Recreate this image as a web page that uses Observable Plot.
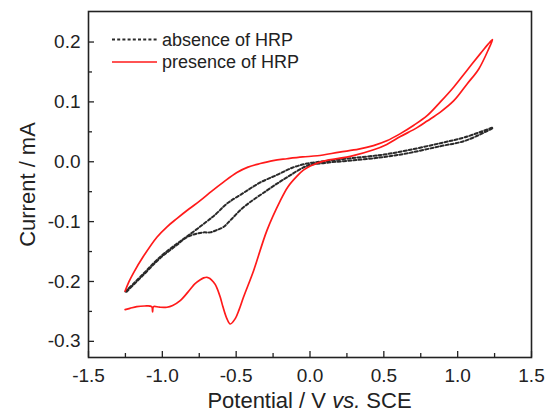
<!DOCTYPE html>
<html>
<head>
<meta charset="utf-8">
<script src="https://cdn.jsdelivr.net/npm/d3@7"></script>
<script src="https://cdn.jsdelivr.net/npm/@observablehq/plot@0.6"></script>
<style>
  html, body { margin: 0; padding: 0; background: #fff; }
  #wrap { position: relative; width: 546px; height: 414px; font-family: "Liberation Sans", Arial, sans-serif; }
  #overlay { position: absolute; left: 0; top: 0; pointer-events: none; }
</style>
</head>
<body>
<div id="wrap"></div>
<script>
// ---- data ----
const xTicks = [-1.5, -1.0, -0.5, 0.0, 0.5, 1.0, 1.5];
const xMinor = [-1.25, -0.75, -0.25, 0.25, 0.75, 1.25];
const yTicks = [-0.3, -0.2, -0.1, 0.0, 0.1, 0.2];
const yMinor = [-0.25, -0.15, -0.05, 0.05, 0.15];

const xLabel = ["Potential / V ", "vs.", " SCE"];
const yLabel = "Current / mA";
const seriesNames = ["absence of HRP", "presence of HRP"];

// presence of HRP (red): anodic sweep then return sweep
const redV = [-1.252, -1.225, -1.196, -1.128, -1.037, -0.97, -0.902, -0.82, -0.744, -0.665, -0.586, -0.495, -0.42, -0.337, -0.25, -0.156, -0.05, 0.05, 0.2, 0.33, 0.43, 0.52, 0.612, 0.703, 0.793, 0.883, 0.974, 1.064, 1.155, 1.205, 1.236,
  1.211, 1.143, 1.064, 0.974, 0.883, 0.793, 0.725, 0.612, 0.52, 0.431, 0.273, 0.092, 0.002, -0.045, -0.088, -0.15, -0.201, -0.292, -0.382, -0.45, -0.48, -0.506, -0.54, -0.563, -0.59, -0.608, -0.635, -0.654, -0.678, -0.698, -0.72, -0.743, -0.78, -0.811, -0.879, -0.93, -0.969, -1.02, -1.06, -1.066, -1.072, -1.12, -1.173, -1.22, -1.252];
const redI = [-0.216, -0.200, -0.186, -0.158, -0.126, -0.109, -0.095, -0.079, -0.065, -0.049, -0.034, -0.018, -0.009, -0.003, 0.002, 0.005, 0.008, 0.010, 0.016, 0.021, 0.027, 0.035, 0.047, 0.061, 0.077, 0.100, 0.125, 0.153, 0.181, 0.196, 0.204,
  0.189, 0.155, 0.130, 0.102, 0.083, 0.068, 0.057, 0.042, 0.029, 0.020, 0.009, 0.001, -0.007, -0.014, -0.024, -0.042, -0.065, -0.115, -0.182, -0.226, -0.247, -0.262, -0.271, -0.262, -0.242, -0.226, -0.208, -0.201, -0.195, -0.193, -0.194, -0.197, -0.204, -0.213, -0.232, -0.240, -0.243, -0.243, -0.242, -0.251, -0.242, -0.241, -0.242, -0.245, -0.247];

// absence of HRP (black dotted)
const blackV = [-1.25, -1.128, -1.015, -0.902, -0.834, -0.721, -0.64, -0.563, -0.45, -0.34, -0.224, -0.12, -0.02, 0.1, 0.319, 0.5, 0.658, 0.883, 1.05, 1.24,
  1.05, 0.883, 0.658, 0.5, 0.319, 0.1, -0.02, -0.156, -0.292, -0.45, -0.54, -0.586, -0.63, -0.676, -0.721, -0.78, -0.834, -0.902, -1.015, -1.128, -1.25];
const blackI = [-0.217, -0.187, -0.159, -0.137, -0.125, -0.104, -0.088, -0.070, -0.052, -0.035, -0.022, -0.010, -0.003, 0.001, 0.007, 0.012, 0.019, 0.031, 0.041, 0.057,
  0.035, 0.026, 0.014, 0.008, 0.003, -0.002, -0.007, -0.026, -0.048, -0.076, -0.098, -0.109, -0.114, -0.118, -0.118, -0.121, -0.126, -0.139, -0.161, -0.189, -0.219];

// ---- layout ----
const W = 546, H = 414;
const mL = 88, mR = 15, mT = 11, mB = 57;
const fw = W - mL - mR, fh = H - mT - mB;
const ink = "#222";
const fmt = d => d.toFixed(1);

const chart = Plot.plot({
  width: W, height: H,
  marginLeft: mL, marginRight: mR, marginTop: mT, marginBottom: mB,
  style: { fontFamily: "'Liberation Sans', Arial, sans-serif", fontSize: "19px", color: ink, background: "white", overflow: "visible" },
  x: { domain: [-1.5, 1.5] },
  y: { domain: [-0.327, 0.251] },
  marks: [
    Plot.axisX(xTicks, { tickSize: 0, tickPadding: 11, tickFormat: fmt, label: null, fontSize: 19, fill: ink }),
    Plot.axisY(yTicks, { tickSize: 0, tickPadding: 8, tickFormat: fmt, label: null, fontSize: 19, fill: ink }),
    Plot.ruleX(xTicks, { x: d => d, insetTop: fh - 6, stroke: ink, strokeWidth: 1.3 }),
    Plot.ruleX(xMinor, { x: d => d, insetTop: fh - 4, stroke: ink, strokeWidth: 1.3 }),
    Plot.ruleY(yTicks, { y: d => d, insetRight: fw - 6, stroke: ink, strokeWidth: 1.3 }),
    Plot.ruleY(yMinor, { y: d => d, insetRight: fw - 4, stroke: ink, strokeWidth: 1.3 }),
    Plot.line({ length: blackV.length }, { x: blackV, y: blackI, stroke: "#2a2a2a", strokeWidth: 2, strokeDasharray: "3,2.2", curve: "catmull-rom" }),
    Plot.line({ length: redV.length }, { x: redV, y: redI, stroke: "#ff1a1a", strokeWidth: 1.7, curve: "catmull-rom" }),
    Plot.frame({ stroke: ink, strokeWidth: 1.6 }),
    Plot.text([yLabel], { frameAnchor: "left", dx: -61, rotate: -90, textAnchor: "middle", lineAnchor: "middle", fontSize: 22, fill: ink })
  ]
});

const wrap = document.getElementById("wrap");
wrap.appendChild(chart);

// overlay: legend and x-axis title (mixed italic)
const ns = "http://www.w3.org/2000/svg";
const ov = document.createElementNS(ns, "svg");
ov.setAttribute("id", "overlay");
ov.setAttribute("width", W);
ov.setAttribute("height", H);
ov.style.fontFamily = "'Liberation Sans', Arial, sans-serif";

const legendRows = [
  { name: seriesNames[0], stroke: "#2a2a2a", width: 2, dash: "3,2.2", y: 39.5 },
  { name: seriesNames[1], stroke: "#ff1a1a", width: 1.7, dash: null, y: 62 }
];
for (const r of legendRows) {
  const l = document.createElementNS(ns, "line");
  l.setAttribute("x1", 112); l.setAttribute("x2", 157);
  l.setAttribute("y1", r.y); l.setAttribute("y2", r.y);
  l.setAttribute("stroke", r.stroke); l.setAttribute("stroke-width", r.width);
  if (r.dash) l.setAttribute("stroke-dasharray", r.dash);
  ov.appendChild(l);
  const t = document.createElementNS(ns, "text");
  t.setAttribute("x", 162); t.setAttribute("y", r.y);
  t.setAttribute("dy", "0.35em");
  t.setAttribute("font-size", 18);
  t.setAttribute("fill", ink);
  t.textContent = r.name;
  ov.appendChild(t);
}

const xt = document.createElementNS(ns, "text");
xt.setAttribute("x", mL + fw / 2);
xt.setAttribute("y", 408);
xt.setAttribute("text-anchor", "middle");
xt.setAttribute("font-size", 22);
xt.setAttribute("fill", ink);
xLabel.forEach((s, i) => {
  const ts = document.createElementNS(ns, "tspan");
  if (i === 1) ts.setAttribute("font-style", "italic");
  ts.textContent = s;
  xt.appendChild(ts);
});
ov.appendChild(xt);
wrap.appendChild(ov);
</script>
</body>
</html>
